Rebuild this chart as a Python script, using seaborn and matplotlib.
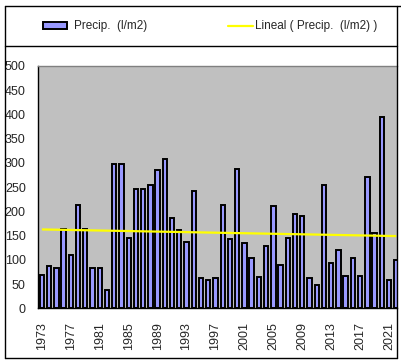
import numpy as np
import matplotlib
matplotlib.use("Agg")
import matplotlib.pyplot as plt
import seaborn as sns
from matplotlib.patches import Rectangle
from matplotlib.lines import Line2D

years = list(range(1973, 2023))
precip = [69, 88, 84, 163, 111, 214, 163, 84, 84, 37,
          297, 297, 146, 247, 247, 254, 285, 309, 187, 161,
          137, 243, 63, 58, 62, 214, 142, 287, 134, 104,
          65, 129, 212, 90, 146, 195, 190, 62, 49, 255,
          94, 121, 67, 104, 67, 270, 156, 395, 58, 99]
label_years = list(range(1973, 2023, 4))

sns.set_style("white")
plt.rcParams["font.family"] = ["Liberation Sans", "DejaVu Sans"]

fig = plt.figure(figsize=(4.02, 3.63), dpi=100)
ax = fig.add_axes([38.3 / 402, 1 - 308.3 / 363, (397 - 38.3) / 402, (308.3 - 66) / 363])
ax.set_facecolor("#C0C0C0")

sns.barplot(x=[str(y) for y in years], y=precip, color="#9999FF", saturation=1,
            edgecolor="black", linewidth=1.4, width=0.6, ax=ax)

# linear trend
idx = np.arange(len(years))
m, b = np.polyfit(idx, precip, 1)
ax.plot(idx, m * idx + b, color="#FFFF00", lw=1.6, solid_capstyle="butt")

ax.set_xlim(-0.5, 49.1)
ax.set_ylim(0, 500)
ax.set_yticks(range(0, 501, 50))
ax.tick_params(axis="y", direction="out", length=5, width=1, pad=4, labelsize=9, color="black")
ax.set_xticks([years.index(y) for y in label_years])
ax.set_xticklabels([str(y) for y in label_years], rotation=90, fontsize=9)
ax.set_xticks(idx - 0.5, minor=True)
ax.tick_params(axis="x", which="major", length=0, pad=10)
ax.tick_params(axis="x", which="minor", direction="out", length=4, width=1, color="black")
ax.set_xlabel("")
ax.set_ylabel("")

for s in ["left", "bottom"]:
    ax.spines[s].set_color("black")
    ax.spines[s].set_linewidth(1)
ax.spines["top"].set_color("#808080")
ax.spines["top"].set_linewidth(1)
ax.spines["right"].set_visible(False)

# chart frame and legend box
tf = fig.transFigure
def fline(x0, y0, x1, y1):
    fig.add_artist(Line2D([x0 / 402, x1 / 402], [1 - y0 / 363, 1 - y1 / 363],
                          transform=tf, color="black", lw=1))
fline(5, 6, 402, 6)
fline(5, 6, 5, 358)
fline(5, 358, 397, 358)
fline(397, 6, 397, 358)
fline(5, 46, 397, 46)

# legend
fig.add_artist(Rectangle((43 / 402, 1 - 29 / 363), 24 / 402, 7 / 363, transform=tf,
                         facecolor="#9999FF", edgecolor="black", lw=1.4))
fig.text(74 / 402, 1 - 25.5 / 363, "Precip.  (l/m2)", fontsize=8.5, va="center", ha="left")
fig.add_artist(Line2D([228 / 402, 253 / 402], [1 - 25.7 / 363] * 2, transform=tf,
                      color="#FFFF00", lw=1.6))
fig.text(255 / 402, 1 - 25.5 / 363, "Lineal ( Precip.  (l/m2) )", fontsize=8.5,
         va="center", ha="left")

fig.savefig("out.png", dpi=100)
